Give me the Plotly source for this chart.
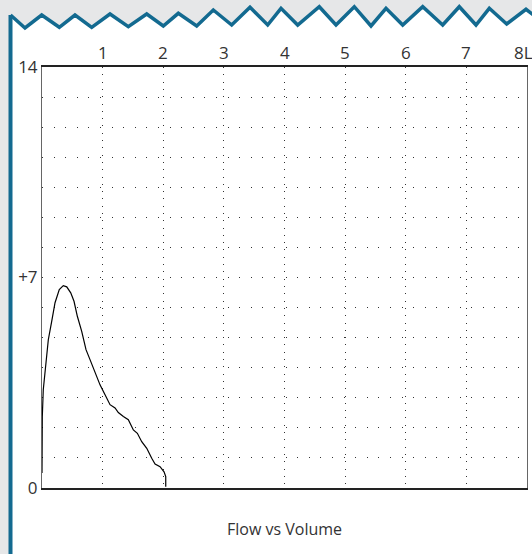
import plotly.graph_objects as go

# ---- data (volume in L, flow in L/s) ----
volume = [0.0, 0.0, 0.005, 0.021, 0.05, 0.104, 0.16, 0.215, 0.285, 0.351, 0.408,
          0.474, 0.528, 0.583, 0.655, 0.726, 0.792, 0.875, 0.957, 1.04, 1.122,
          1.205, 1.259, 1.342, 1.424, 1.507, 1.573, 1.645, 1.728, 1.81, 1.865,
          1.947, 2.013, 2.041, 2.041]
flow = [0.5, 1.5, 2.38, 3.27, 3.93, 4.93, 5.54, 6.16, 6.6, 6.73, 6.69,
        6.49, 6.21, 5.71, 5.21, 4.6, 4.27, 3.82, 3.43, 3.1, 2.77,
        2.66, 2.51, 2.38, 2.27, 1.93, 1.82, 1.54, 1.32, 0.99, 0.8,
        0.71, 0.54, 0.38, 0.04]

x_tick_vals = [1, 2, 3, 4, 5, 6, 7, 8]
x_tick_text = ["1", "2", "3", "4", "5", "6", "7", "8L"]
y_tick_vals = [0, 7, 14]
y_tick_text = ["0", "+7", "14"]
title_text = "Flow vs Volume"

# ---- decoration (page frame) in pixel coordinates ----
W, H = 532, 554
ML, MR, MT, MB = 42, 5, 67, 66
zigzag_px = [(10.5, 15), (25, 28), (41.7, 15), (59.3, 27.3), (75, 15), (91.7, 27.3),
             (110, 14), (128.3, 26.7), (146.7, 14), (163.3, 26), (178.3, 13.3),
             (196.7, 26), (213.3, 10), (231.7, 25), (250, 7.3), (267.7, 25),
             (281, 8.3), (297.7, 25), (319.3, 6.7), (336, 25), (354.3, 6.7),
             (371, 26), (386, 8.3), (402.7, 25), (422.7, 6.7), (442.7, 25),
             (459.3, 6.7), (476, 25), (489.3, 8.3), (506.7, 24), (526, 9.3),
             (540, 20)]

pw, ph = W - ML - MR, H - MT - MB


def px2paper(x, y):
    return (x - ML) / pw, (H - MB - y) / ph


BLUE = "#136a90"
GRAY = "#e6e7e8"
GRID = "#333333"
TXT = "#333333"
FONT = "Open Sans"

# white page polygon below zigzag, right of blue line
pts = [px2paper(x, y) for x, y in zigzag_px]
bl = px2paper(10.5, 560)
br = px2paper(540, 560)
white_path = "M %f,%f " % pts[0] + " ".join("L %f,%f" % p for p in pts[1:]) + \
    " L %f,%f L %f,%f Z" % (br[0], br[1], bl[0], bl[1])
zig_path = "M %f,%f " % pts[0] + " ".join("L %f,%f" % p for p in pts[1:])
vtop = px2paper(10.5, 15)
vbot = px2paper(10.5, 560)

fig = go.Figure()
fig.add_trace(go.Scatter(x=volume, y=flow, mode="lines",
                         line=dict(color="black", width=1.2),
                         hoverinfo="skip", showlegend=False))

# top-axis labels drawn as text at the axis values (x in data units)
label_y = px2paper(0, 53)[1]
annotations = []
for v, t in zip(x_tick_vals, x_tick_text):
    last = v == x_tick_vals[-1]
    annotations.append(
        dict(text=t, x=v, xref="x", y=label_y, yref="paper", showarrow=False,
             xanchor="center", yanchor="middle",
             xshift=-4 if last else 0,
             font=dict(family=FONT, size=17, color=TXT)))
annotations.append(
    dict(text=title_text, xref="paper", yref="paper", x=0.5,
         y=px2paper(0, 529)[1], showarrow=False, yanchor="middle",
         font=dict(family=FONT, size=16, color=TXT)))

fig.update_layout(
    width=W, height=H,
    margin=dict(l=ML, r=MR, t=MT, b=MB, pad=0),
    paper_bgcolor=GRAY, plot_bgcolor="white",
    font=dict(family=FONT, color=TXT, size=17),
    xaxis=dict(range=[0, 8], tickvals=x_tick_vals[:-1], showticklabels=False,
               ticks="", showgrid=True, gridcolor=GRID, gridwidth=1,
               griddash="1px,6.3px", zeroline=False,
               showline=True, linecolor="#222222", linewidth=1.5, mirror=True,
               fixedrange=True),
    yaxis=dict(range=[0, 14], tickvals=y_tick_vals, ticktext=y_tick_text,
               ticks="", showgrid=True, gridcolor=GRID, gridwidth=1,
               griddash="1px,10.6px", zeroline=False,
               minor=dict(dtick=1, showgrid=True, gridcolor=GRID, gridwidth=1,
                          griddash="1px,10.6px", ticks=""),
               showline=True, linecolor="#666666", linewidth=1, mirror=True,
               tickfont=dict(size=17, color=TXT), fixedrange=True),
    shapes=[
        dict(type="path", xref="paper", yref="paper", path=white_path,
             fillcolor="white", line=dict(width=0), layer="below"),
        dict(type="path", xref="paper", yref="paper", path=zig_path,
             line=dict(color=BLUE, width=3.5), layer="above"),
        dict(type="line", xref="paper", yref="paper", x0=vtop[0], y0=vtop[1],
             x1=vbot[0], y1=vbot[1], line=dict(color=BLUE, width=4), layer="above"),
    ],
    annotations=annotations,
)

fig.write_html("out.html")
